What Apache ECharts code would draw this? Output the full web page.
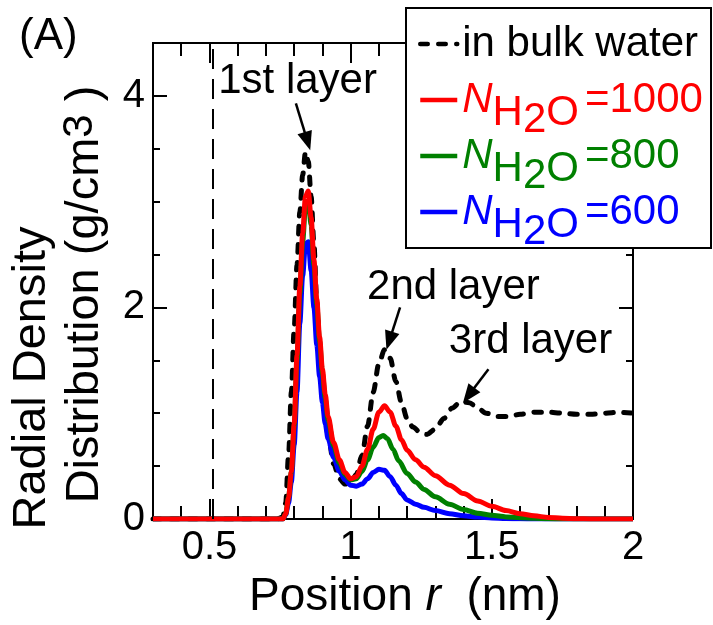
<!DOCTYPE html>
<html>
<head>
<meta charset="utf-8">
<script src="https://cdn.jsdelivr.net/npm/echarts@6/dist/echarts.min.js"></script>
<style>html,body{margin:0;padding:0;background:#fff}#c{width:713px;height:625px}</style>
</head>
<body>
<div id="c"></div>
<script>
// ---- data (r in nm, density in g/cm3) ----
const bulkWater = [[0.30,0],[0.50,0],[0.74,0],[0.76,0.02],[0.77,0.15],[0.78,0.6],[0.79,1.2],[0.80,1.8],[0.81,2.4],[0.82,2.9],[0.83,3.25],[0.84,3.47],[0.85,3.38],[0.86,3.05],[0.87,2.6],[0.88,2.05],[0.89,1.6],[0.90,1.25],[0.92,0.8],[0.94,0.52],[0.96,0.38],[0.98,0.33],[1.00,0.34],[1.02,0.42],[1.04,0.6],[1.06,0.88],[1.08,1.2],[1.10,1.47],[1.12,1.6],[1.14,1.52],[1.16,1.3],[1.18,1.1],[1.20,0.95],[1.22,0.87],[1.25,0.81],[1.27,0.80],[1.30,0.85],[1.33,0.95],[1.36,1.05],[1.39,1.11],[1.42,1.1],[1.45,1.05],[1.48,1.0],[1.52,0.97],[1.56,0.97],[1.60,0.99],[1.65,1.01],[1.70,1.01],[1.75,1.0],[1.80,0.99],[1.85,0.99],[1.90,1.0],[1.95,1.01],[2.00,1.0]];
const n1000 = [[0.30,0],[0.76,0],[0.77,0.05],[0.78,0.2],[0.79,0.45],[0.80,0.9],[0.81,1.55],[0.82,2.2],[0.83,2.7],[0.84,3.05],[0.85,3.1],[0.86,2.85],[0.87,2.45],[0.88,2.08],[0.89,1.72],[0.90,1.42],[0.91,1.18],[0.92,0.97],[0.94,0.72],[0.96,0.56],[0.98,0.44],[1.00,0.38],[1.02,0.40],[1.04,0.50],[1.06,0.66],[1.08,0.85],[1.10,1.01],[1.12,1.07],[1.14,1.01],[1.16,0.88],[1.18,0.75],[1.20,0.65],[1.23,0.56],[1.26,0.49],[1.30,0.41],[1.35,0.32],[1.40,0.24],[1.45,0.17],[1.50,0.12],[1.55,0.08],[1.60,0.05],[1.65,0.03],[1.70,0.015],[1.75,0.007],[1.80,0.003],[1.85,0],[2.00,0]];
const n800 = [[0.30,0],[0.76,0],[0.77,0.05],[0.78,0.2],[0.79,0.45],[0.80,0.88],[0.81,1.5],[0.82,2.13],[0.83,2.62],[0.84,2.95],[0.85,3.0],[0.86,2.78],[0.87,2.4],[0.88,2.03],[0.89,1.68],[0.90,1.38],[0.91,1.14],[0.92,0.94],[0.94,0.69],[0.96,0.53],[0.98,0.42],[1.00,0.37],[1.02,0.38],[1.04,0.45],[1.06,0.56],[1.08,0.68],[1.10,0.77],[1.115,0.79],[1.13,0.76],[1.15,0.66],[1.17,0.55],[1.20,0.43],[1.23,0.35],[1.26,0.28],[1.30,0.21],[1.35,0.14],[1.40,0.09],[1.45,0.055],[1.50,0.035],[1.55,0.02],[1.60,0.012],[1.65,0.006],[1.70,0.002],[1.75,0],[2.00,0]];
const n600 = [[0.30,0],[0.76,0],[0.77,0.04],[0.78,0.15],[0.79,0.35],[0.80,0.7],[0.81,1.2],[0.82,1.85],[0.83,2.3],[0.84,2.6],[0.85,2.62],[0.86,2.35],[0.87,2.0],[0.88,1.65],[0.89,1.35],[0.90,1.1],[0.91,0.9],[0.92,0.76],[0.94,0.58],[0.96,0.45],[0.98,0.37],[1.00,0.32],[1.02,0.31],[1.04,0.33],[1.06,0.38],[1.08,0.44],[1.10,0.47],[1.12,0.46],[1.14,0.40],[1.16,0.32],[1.18,0.24],[1.20,0.18],[1.23,0.14],[1.26,0.11],[1.30,0.08],[1.35,0.05],[1.40,0.03],[1.45,0.018],[1.50,0.01],[1.55,0.005],[1.60,0.002],[1.65,0],[2.00,0]];
const seriesNames = ['in bulk water', 'N1000', 'N800', 'N600'];
const xMajorTicks = [0.5, 1, 1.5, 2];
const yMajorTicks = [0, 2, 4];
const wallPosition = 0.512;
// annotation anchors (data coords): label centre, arrow start, arrow end
const layerLabels = ['1st layer', '2nd layer', '3rd layer'];
const layerLabelAt = [[0.812, 4.14], [1.364, 2.186], [1.637, 1.682]];
const arrowFrom = [[0.806, 3.93], [1.175, 2.0], [1.488, 1.415]];
const arrowTo = [[0.847, 3.572], [1.137, 1.685], [1.418, 1.169]];

const FF = '"Liberation Sans", Arial, Helvetica, sans-serif';
const BLACK = '#000';
const colors = {bulk: '#000000', n1000: '#ff0000', n800: '#008000', n600: '#0000ff'};

const chart = echarts.init(document.getElementById('c'), null, {renderer: 'canvas'});

function minorX(pos) {
  return {type: 'value', position: pos, min: 0.3, max: 2.0, interval: 0.1,
    axisLine: {show: true, onZero: false, lineStyle: {color: BLACK, width: 2}},
    axisTick: {show: true, inside: true, length: 13, lineStyle: {color: BLACK, width: 2}},
    axisLabel: {show: false}, splitLine: {show: false}};
}
function majorX(pos, labels) {
  return {type: 'value', position: pos, min: 0.3, max: 2.0, interval: 0.1,
    axisLine: {show: true, onZero: false, lineStyle: {color: BLACK, width: 2}},
    axisTick: {show: true, inside: true, length: 20, customValues: xMajorTicks, lineStyle: {color: BLACK, width: 2}},
    axisLabel: labels ? {show: true, customValues: xMajorTicks, fontSize: 40, fontFamily: FF, color: BLACK, margin: 9} : {show: false},
    splitLine: {show: false}};
}
function minorY(pos) {
  return {type: 'value', position: pos, min: 0, max: 4.5, interval: 0.5,
    axisLine: {show: true, onZero: false, lineStyle: {color: BLACK, width: 2}},
    axisTick: {show: true, inside: true, length: 7, lineStyle: {color: BLACK, width: 2}},
    axisLabel: {show: false}, splitLine: {show: false}};
}
function majorY(pos, labels) {
  return {type: 'value', position: pos, min: 0, max: 4.5, interval: 0.5,
    axisLine: {show: true, onZero: false, lineStyle: {color: BLACK, width: 2}},
    axisTick: {show: true, inside: true, length: 14, customValues: yMajorTicks, lineStyle: {color: BLACK, width: 2}},
    axisLabel: labels ? {show: true, customValues: yMajorTicks, fontSize: 40, fontFamily: FF, color: BLACK, margin: 8} : {show: false},
    splitLine: {show: false}};
}

const xAxes = [majorX('bottom', true), minorX('bottom'), minorX('top'), majorX('top', false)];
xAxes[0].name = '{a|Position }{i|r}{a|  (nm)}';
xAxes[0].nameLocation = 'middle';
xAxes[0].nameGap = 55;
xAxes[0].nameTextStyle = {color: BLACK, fontFamily: FF, fontSize: 46,
  rich: {a: {fontSize: 46, fontFamily: FF, color: BLACK}, i: {fontSize: 46, fontFamily: FF, fontStyle: 'italic', color: BLACK}},
  padding: [0, 0, 0, 24]};

const yAxes = [majorY('left', true), minorY('left'), minorY('right'), majorY('right', false)];
yAxes[0].name = '{a|Radial Density}\n{b|Distribution (g/cm}{c|3}{d| )}';
yAxes[0].nameLocation = 'middle';
yAxes[0].nameRotate = 90;
yAxes[0].nameGap = 41;
yAxes[0].nameTextStyle = {color: BLACK, fontFamily: FF, fontSize: 47,
  rich: {
    a: {fontSize: 47, fontFamily: FF, color: BLACK, lineHeight: 53, padding: [0, 194, 0, 0]},
    b: {fontSize: 47, fontFamily: FF, color: BLACK, lineHeight: 53},
    c: {fontSize: 42, fontFamily: FF, color: BLACK, lineHeight: 53, padding: [0, 0, 10, 0]},
    d: {fontSize: 47, fontFamily: FF, color: BLACK, lineHeight: 53, padding: [0, 27, 0, 0]}
  }};

const legendLabels = {
  'in bulk water': '{z| }{t|in bulk water}',
  'N1000': '{i|N}{s|H}{d|2}{s|O}{e|=1000}',
  'N800': '{i|N}{s|H}{d|2}{s|O}{e|=800}',
  'N600': '{i|N}{s|H}{d|2}{s|O}{e|=600}'
};

const markLineData = [
  {xAxis: wallPosition, symbol: 'none', lineStyle: {color: BLACK, width: 2, type: [20, 10]}}
];
for (let k = 0; k < arrowFrom.length; k++) {
  markLineData.push([
    {coord: arrowFrom[k], symbol: 'none', lineStyle: {color: BLACK, width: 2.5, type: 'solid'}},
    {coord: arrowTo[k], symbol: 'triangle', symbolSize: [15, 19]}
  ]);
}
const markPointData = layerLabels.map((t, k) => ({name: t, coord: layerLabelAt[k]}));

function lineSeries(name, data, color, z, extra) {
  return Object.assign({
    type: 'line', name: name, data: data, z: z, xAxisIndex: 0, yAxisIndex: 0,
    showSymbol: false, symbol: 'none', smooth: 0.3, smoothMonotone: 'x',
    lineStyle: {color: color, width: 5}, itemStyle: {color: color},
    silent: true, animation: false
  }, extra || {});
}

const option = {
  animation: false,
  backgroundColor: '#fff',
  textStyle: {fontFamily: FF},
  title: {text: '(A)', left: 19, top: 15, padding: 0,
    textStyle: {fontSize: 44, fontWeight: 'normal', color: BLACK, fontFamily: FF}},
  grid: {left: 153, top: 43, right: 80, bottom: 105, containLabel: false},
  xAxis: xAxes,
  yAxis: yAxes,
  graphic: [{
    type: 'rect', z: 8, silent: true,
    shape: {x: 406, y: 8, width: 305, height: 240},
    style: {fill: '#fff', stroke: BLACK, lineWidth: 2}
  }],
  legend: {
    orient: 'vertical', left: 418, top: 3, padding: 0,
    itemGap: -26, itemWidth: 37, itemHeight: 14,
    selectedMode: false, z: 10,
    itemStyle: {color: 'rgba(0,0,0,0)', borderColor: 'rgba(0,0,0,0)', borderWidth: 0, opacity: 0},
    lineStyle: {width: 4.5},
    data: [
      {name: 'in bulk water', textStyle: {color: colors.bulk}},
      {name: 'N1000', textStyle: {color: colors.n1000}},
      {name: 'N800', textStyle: {color: colors.n800}},
      {name: 'N600', textStyle: {color: colors.n600}}
    ],
    formatter: function (name) { return legendLabels[name]; },
    textStyle: {fontFamily: FF, fontSize: 42,
      rich: {
        z: {fontSize: 42, fontFamily: FF, lineHeight: 55, width: 0, padding: [40, 0, 0, 0]},
        t: {fontSize: 42, fontFamily: FF, lineHeight: 55},
        i: {fontSize: 42, fontFamily: FF, fontStyle: 'italic', lineHeight: 55},
        s: {fontSize: 42, fontFamily: FF, lineHeight: 55, padding: [26, 0, 0, 0]},
        d: {fontSize: 42, fontFamily: FF, lineHeight: 55, padding: [40, 0, 0, 0]},
        e: {fontSize: 42, fontFamily: FF, lineHeight: 55, padding: [0, 0, 0, 6]}
      }}
  },
  series: [
    lineSeries(seriesNames[0], bulkWater, colors.bulk, 1, {
      lineStyle: {color: colors.bulk, width: 5, type: [7.5, 10.5], cap: 'round'},
      markLine: {silent: true, animation: false, symbol: ['none', 'none'], label: {show: false},
        lineStyle: {color: BLACK, width: 2.5, type: 'solid'}, emphasis: {disabled: true}, data: markLineData},
      markPoint: {silent: true, animation: false, symbol: 'rect', symbolSize: 0,
        label: {show: true, position: 'inside', formatter: '{b}', fontSize: 42, fontFamily: FF, color: BLACK},
        data: markPointData}
    }),
    lineSeries(seriesNames[3], n600, colors.n600, 2),
    lineSeries(seriesNames[2], n800, colors.n800, 3),
    lineSeries(seriesNames[1], n1000, colors.n1000, 4)
  ]
};
chart.setOption(option);
</script>
</body>
</html>
